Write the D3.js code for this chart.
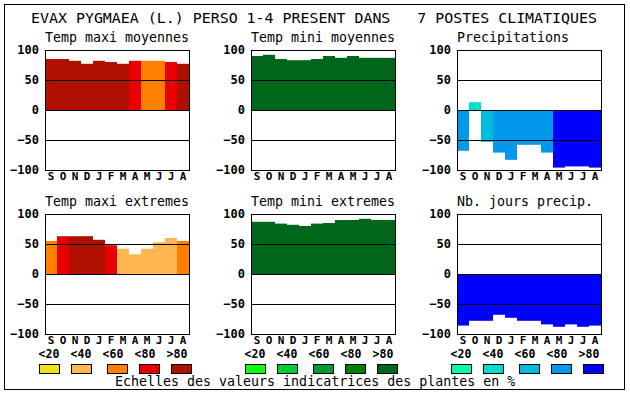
<!DOCTYPE html>
<html>
<head>
<meta charset="utf-8">
<script src="https://cdn.jsdelivr.net/npm/d3@7"></script>
<style>
  body { margin: 0; background: #fff; }
  svg { display: block; }
  text { font-family: "DejaVu Sans Mono", monospace; fill: #000; }
</style>
</head>
<body>
<svg id="chart" width="630" height="394"></svg>
<script>
// months of the climatic year, Sept -> Aug
var months = ["S","O","N","D","J","F","M","A","M","J","J","A"];
var ticks = [-100,-50,0,50,100];
var legendLabels = ["<20","<40","<60","<80",">80"];

// palettes (class 0..4)
var redScale = ["#f2e21c","#ffb84f","#ff8000","#e80000","#b01000"];
var greenScale = ["#10ff10","#00cc33","#009933","#008000","#006619"];
var blueScale = ["#00ffaa","#00ddcc","#00bbdd","#0099ee","#0000ff"];

// values, with colour class for each bar
var tmaxMoy = [85,85,82,77,82,80,77,82,82,82,80,77];
var tmaxMoyCls = [4,4,4,4,4,4,4,3,2,2,3,4];
var tminMoy = [90,92,85,83,83,85,90,87,90,87,87,87];
var tminMoyCls = [4,4,4,4,4,4,4,4,4,4,4,4];
var precip = [-68,13,-53,-71,-83,-58,-58,-71,-96,-94,-94,-96];
var precipCls = [3,1,2,3,3,3,3,3,4,4,4,4];
var tmaxExt = [55,63,63,63,57,48,42,33,42,53,60,55];
var tmaxExtCls = [2,3,4,4,4,3,1,1,1,1,1,2];
var tminExt = [87,87,84,82,80,84,85,90,90,92,90,90];
var tminExtCls = [4,4,4,4,4,4,4,4,4,4,4,4];
var nbJours = [-86,-78,-78,-68,-73,-78,-78,-84,-88,-84,-88,-86];
var nbJoursCls = [4,4,4,4,4,4,4,4,4,4,4,4];

var svg = d3.select("#chart");

var W = 144, H = 120;
var colX = [45, 251, 457];
var rowY = [50, 214];

var x = d3.scaleBand().domain(d3.range(12)).range([0, W]).padding(0);
var y = d3.scaleLinear().domain([-100, 100]).range([H, 0]);

// outer frame
svg.append("rect")
    .attr("x", 4.5).attr("y", 4.5)
    .attr("width", 620).attr("height", 385)
    .attr("fill", "none").attr("stroke", "#000").attr("stroke-width", 1);

svg.append("text")
    .attr("x", 31).attr("y", 23)
    .attr("font-size", 14.5)
    .attr("textLength", 566)
    .attr("lengthAdjust", "spacingAndGlyphs")
    .style("white-space", "pre")
    .text("EVAX PYGMAEA (L.) PERSO 1-4 PRESENT DANS   7 POSTES CLIMATIQUES");

function panel(col, row, title, values, cls, palette) {
    var g = svg.append("g").attr("transform", "translate(" + colX[col] + "," + rowY[row] + ")");

    g.append("text")
        .attr("x", 0).attr("y", -8)
        .attr("font-size", 13.3)
        .text(title);

    g.selectAll("rect.bar")
        .data(values)
        .enter().append("rect")
        .attr("class", "bar")
        .attr("x", function(d, i) { return x(i); })
        .attr("width", x.bandwidth())
        .attr("y", function(d) { return Math.min(y(d), y(0)); })
        .attr("height", function(d) { return Math.abs(y(d) - y(0)); })
        .attr("fill", function(d, i) { return palette[cls[i]]; });

    // grid lines at 50, 0, -50
    g.selectAll("line.grid")
        .data([50, 0, -50])
        .enter().append("line")
        .attr("x1", 0).attr("x2", W)
        .attr("y1", function(d) { return Math.round(y(d)) + 0.5; })
        .attr("y2", function(d) { return Math.round(y(d)) + 0.5; })
        .attr("stroke", "#000");

    g.append("rect")
        .attr("x", 0.5).attr("y", 0.5)
        .attr("width", W).attr("height", H)
        .attr("fill", "none").attr("stroke", "#000");

    var ya = g.append("g")
        .call(d3.axisLeft(y).tickValues(ticks).tickSize(0).tickPadding(6).tickFormat(d3.format("d")));
    ya.select(".domain").remove();
    ya.selectAll("text")
        .attr("font-family", "DejaVu Sans Mono, monospace")
        .attr("font-size", 12).attr("font-weight", "bold");

    var xa = g.append("g")
        .attr("transform", "translate(0," + H + ")")
        .call(d3.axisBottom(x).tickSize(0).tickPadding(2).tickFormat(function(i) { return months[i]; }));
    xa.select(".domain").remove();
    xa.selectAll("text")
        .attr("font-family", "DejaVu Sans Mono, monospace")
        .attr("font-size", 11).attr("font-weight", "bold");
}

function legend(col, palette) {
    var g = svg.append("g").attr("transform", "translate(" + colX[col] + ",0)");
    var lx = d3.scaleLinear().domain([0, 4]).range([4, 132]);
    g.selectAll("text.lg")
        .data(legendLabels)
        .enter().append("text")
        .attr("class", "lg")
        .attr("x", function(d, i) { return lx(i); })
        .attr("y", 358)
        .attr("text-anchor", "middle")
        .attr("font-size", 11.5).attr("font-weight", "bold")
        .text(function(d) { return d; });
    g.selectAll("rect.sw")
        .data(palette)
        .enter().append("rect")
        .attr("class", "sw")
        .attr("x", function(d, i) { return lx(i) - 10 + (i >= 2 ? 4 : 0) + 0.5; })
        .attr("y", 364.5)
        .attr("width", 20).attr("height", 9)
        .attr("fill", function(d) { return d; })
        .attr("stroke", "#000");
}

panel(0, 0, "Temp maxi moyennes", tmaxMoy, tmaxMoyCls, redScale);
panel(1, 0, "Temp mini moyennes", tminMoy, tminMoyCls, greenScale);
panel(2, 0, "Precipitations", precip, precipCls, blueScale);
panel(0, 1, "Temp maxi extremes", tmaxExt, tmaxExtCls, redScale);
panel(1, 1, "Temp mini extremes", tminExt, tminExtCls, greenScale);
panel(2, 1, "Nb. jours precip.", nbJours, nbJoursCls, blueScale);

legend(0, redScale);
legend(1, greenScale);
legend(2, blueScale);

svg.append("text")
    .attr("x", 115).attr("y", 386)
    .attr("font-size", 13.3)
    .text("Echelles des valeurs indicatrices des plantes en %");
</script>
</body>
</html>
